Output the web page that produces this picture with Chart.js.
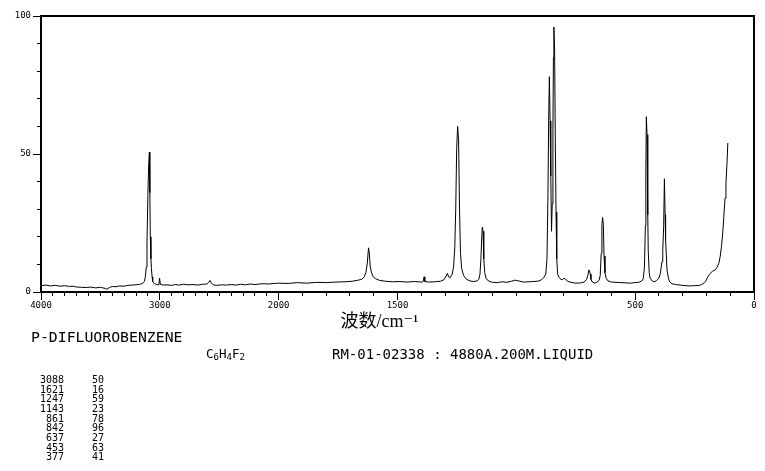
<!DOCTYPE html>
<html><head><meta charset="utf-8">
<script src="https://cdn.jsdelivr.net/npm/chart.js@4.4.1/dist/chart.umd.min.js"></script>
<style>
html,body{margin:0;padding:0;background:#fff;}
#wrap{position:relative;width:765px;height:471px;overflow:hidden;background:#fff;}
#c{position:absolute;left:0;top:0;}
.t{position:absolute;font-family:'DejaVu Sans Mono',monospace;color:#000;white-space:pre;line-height:1;}
.sub{font-size:9px;position:relative;top:2.5px;}
</style></head><body>
<div id="wrap"><canvas id="c" width="765" height="471"></canvas>
<div id="name" class="t" style="left:31px;top:330px;font-size:14.8px;"></div>
<div id="formula" class="t" style="left:206px;top:347.5px;font-size:12.5px;"></div>
<div id="meta" class="t" style="left:332px;top:346.5px;font-size:14px;"></div>
<div id="colW" class="t" style="left:14px;top:375px;width:50px;text-align:right;font-size:10px;line-height:9.66px;"></div>
<div id="colI" class="t" style="left:70px;top:375px;width:34px;text-align:right;font-size:10px;line-height:9.66px;"></div>
</div>
<script>
// ---- spectrum, 4000-2000 cm-1 (compressed part of the axis)
const highWavenumbers = [
 4000,3960,3920,3880,3840,3800,3760,3730,3700,3660,
 3620,3580,3540,3500,3460,3445,3425,3400,3370,3340,
 3300,3270,3240,3200,3170,3150,3130,3122,3114,3108,
 3100,3094,3088,3084,3080,3075,3071,3065,3060,3045,
 3025,3008,3002,2996,2970,2940,2900,2870,2840,2800,
 2760,2720,2680,2640,2605,2590,2578,2568,2550,2520,
 2480,2440,2400,2360,2320,2280,2240,2200,2160,2120,
 2080,2040];
const highIntensities = [
 2.3,2.5,2.2,2.4,2.1,2.3,2.0,2.1,1.8,1.7,
 1.6,1.8,1.5,1.7,1.3,1.0,1.6,2.0,1.9,2.2,
 2.1,2.4,2.5,2.6,2.8,3.0,3.8,5.5,9,18,
 36,46,50.7,36,20,12,8.6,5.5,3.8,3.0,
 2.7,2.6,5.0,2.8,2.5,2.6,2.4,2.7,2.5,2.8,
 2.6,2.7,2.5,2.8,2.9,3.4,4.2,3.3,2.6,2.4,
 2.6,2.5,2.7,2.5,2.8,2.6,2.9,2.7,2.9,3.0,
 2.9,3.1];
// ---- spectrum, 2000-0 cm-1 (expanded part of the axis)
const lowWavenumbers = [
 2000,1960,1920,1880,1840,1800,1760,1720,1690,1665,1650,
 1640,1633,1627,1622,1619,1615,1610,1602,1592,1575,
 1550,1520,1490,1460,1430,1400,1392,1388,1385,1370,
 1345,1320,1305,1295,1290,1285,1278,1270,1264,1259,
 1255,1251,1247,1243,1239,1235,1230,1222,1210,1195,
 1180,1165,1158,1153,1149,1145,1143,1140,1137,1133,
 1127,1115,1100,1080,1060,1040,1020,1005,990,970,
 950,925,905,893,885,876,871,867,864,861,
 858,855,852,849,846,844,842,839,836,833,
 830,826,820,812,806,800,795,785,770,750,
 730,715,705,699,695,692,689,686,680,670,
 660,652,647,643,640,637,634,631,627,622,
 614,600,580,560,540,520,500,485,472,466,
 461,457,455,453,450,447,445,441,437,428,
 420,410,400,394,387,384,380,377,374,372,
 366,360,355,345,330,310,290,270,250,230,
 220,210,204,196,186,175,163,155,148,142,
 137,132,127,122,118,114,110];
const lowIntensities = [
 3.2,3.1,3.4,3.2,3.5,3.4,3.6,3.7,3.9,4.3,4.6,
 5.5,7.0,10.5,16.0,14.5,9.5,7.2,5.5,4.8,4.2,
 3.9,3.7,3.8,3.6,3.8,3.6,3.8,5.5,3.8,3.6,
 3.7,3.9,4.4,5.8,6.8,5.5,5.2,6.5,9.0,16.0,
 30,52,60,55,30,14,8.5,6.0,4.6,4.0,
 3.8,4.0,4.6,6.5,12,21,23.5,22,12,7.0,
 4.8,3.9,3.5,3.4,3.7,3.5,3.9,4.3,4.0,3.6,
 3.7,3.8,4.0,4.5,5.2,6.5,12,35,62,78,
 62,42,22,32,58,85,96,88,55,29,
 12,6.5,5.2,4.6,4.4,5.0,4.8,3.9,3.5,3.2,
 3.3,3.6,4.5,6.0,8.0,7.6,6.5,4.5,3.6,3.2,
 3.6,4.2,6.0,14,24,27,24.5,13,7.0,5.0,
 4.0,3.6,3.5,3.4,3.3,3.2,3.4,3.5,4.0,4.8,
 9.0,24,45,63.5,57,28,15,7.0,5.0,4.0,
 3.7,4.1,5.0,6.8,11,15,24,41,28,19,
 8.0,5.0,3.7,3.0,2.7,2.5,2.3,2.2,2.3,2.4,
 2.7,3.3,3.8,5.2,6.6,7.5,8.0,9.0,10.4,13,
 16.4,21,27.3,34,39.4,46,54];
// ---- peak table
const peakWavenumbers = [3088,1621,1247,1143,861,842,637,453,377];
const peakIntensities = [50,16,59,23,78,96,27,63,41];
// ---- axis labels
const xTickLabels = [4000,3000,2000,1500,500,0];
const yTickLabels = [0,50,100];
const xTitle = '波数/cm⁻¹';
const compoundName = 'P-DIFLUOROBENZENE';
const recordInfo = 'RM-01-02338 : 4880A.200M.LIQUID';

// piecewise axis: 4000-2000 takes one third, 2000-0 two thirds
function toAxis(w){ return w >= 2000 ? (4000 - w) / 2000 : 1 + (2000 - w) / 1000; }
function fromAxis(u){ return u <= 1 ? 4000 - u * 2000 : 2000 - (u - 1) * 1000; }

const wn = highWavenumbers.concat(lowWavenumbers);
const it = highIntensities.concat(lowIntensities);
const points = wn.map((w, i) => ({x: toAxis(w), y: it[i]}));

const xTickValues = [];
for (let w = 4000; w >= 0; w -= 100) xTickValues.push(w);
const yTickValues = [];
for (let v = 0; v <= 100; v += 10) yTickValues.push(v);

const isMajorX = ctx => ctx.tick ? xTickLabels.includes(Math.round(fromAxis(ctx.tick.value))) : true;
const isMajorY = ctx => ctx.tick ? yTickLabels.includes(Math.round(ctx.tick.value)) : true;
const tickFont = {family: "'DejaVu Sans Mono', monospace", size: 9};

new Chart(document.getElementById('c'), {
  type: 'line',
  data: { datasets: [{
    data: points, borderColor: '#000', borderWidth: 1, pointRadius: 0,
    fill: false, tension: 0 }] },
  options: {
    responsive: false, animation: false, devicePixelRatio: 1,
    layout: { padding: { left: 0, right: 11, top: 16, bottom: 134 } },
    plugins: { legend: { display: false }, tooltip: { enabled: false } },
    scales: {
      x: {
        type: 'linear', position: 'bottom', min: 0, max: 3,
        afterBuildTicks: s => { s.ticks = xTickValues.map(w => ({value: toAxis(w)})); },
        afterFit: s => { s.height = 45; },
        ticks: { autoSkip: false, maxRotation: 0, minRotation: 0, padding: 0, color: '#000', font: tickFont,
          callback: v => { const w = Math.round(fromAxis(v)); return xTickLabels.includes(w) ? String(w) : ''; } },
        grid: { display: true, drawOnChartArea: false, drawTicks: true, tickLength: 8, tickColor: '#000', tickWidth: 1,
          tickBorderDash: ctx => isMajorX(ctx) ? [] : [3, 40], tickBorderDashOffset: 0 },
        border: { display: true, color: '#000', width: 2 },
        title: { display: true, text: xTitle + '\u3000\u3000', color: '#000',
          font: { family: "'Liberation Serif', 'DejaVu Serif', 'Noto Sans CJK SC', serif", size: 18 },
          padding: { top: 0, bottom: 4 } }
      },
      y: {
        type: 'linear', position: 'left', min: 0, max: 100,
        afterBuildTicks: s => { s.ticks = yTickValues.map(v => ({value: v})); },
        afterFit: s => { s.width = 41; },
        ticks: { autoSkip: false, padding: 2, color: '#000', font: tickFont,
          callback: v => yTickLabels.includes(Math.round(v)) ? String(v) : '' },
        grid: { display: true, drawOnChartArea: false, drawTicks: true, tickLength: 8, tickColor: '#000', tickWidth: 1,
          tickBorderDash: ctx => isMajorY(ctx) ? [] : [3, 40],
          tickBorderDashOffset: ctx => isMajorY(ctx) ? 0 : 39 },
        border: { display: true, color: '#000', width: 2 }
      },
      xTop: {
        type: 'linear', position: 'top', min: 0, max: 3,
        ticks: { display: false }, grid: { display: false, drawTicks: false },
        border: { display: true, color: '#000', width: 2 },
        afterFit: s => { s.height = 0; }
      },
      yRight: {
        type: 'linear', position: 'right', min: 0, max: 100,
        ticks: { display: false }, grid: { display: false, drawTicks: false },
        border: { display: true, color: '#000', width: 2 },
        afterFit: s => { s.width = 0; }
      }
    }
  }
});

// text block under the chart
document.getElementById('name').textContent = compoundName;
document.getElementById('formula').innerHTML = 'C<span class="sub">6</span>H<span class="sub">4</span>F<span class="sub">2</span>';
document.getElementById('meta').textContent = recordInfo;
document.getElementById('colW').innerHTML = peakWavenumbers.map(String).join('<br>');
document.getElementById('colI').innerHTML = peakIntensities.map(String).join('<br>');
</script>
</body></html>
